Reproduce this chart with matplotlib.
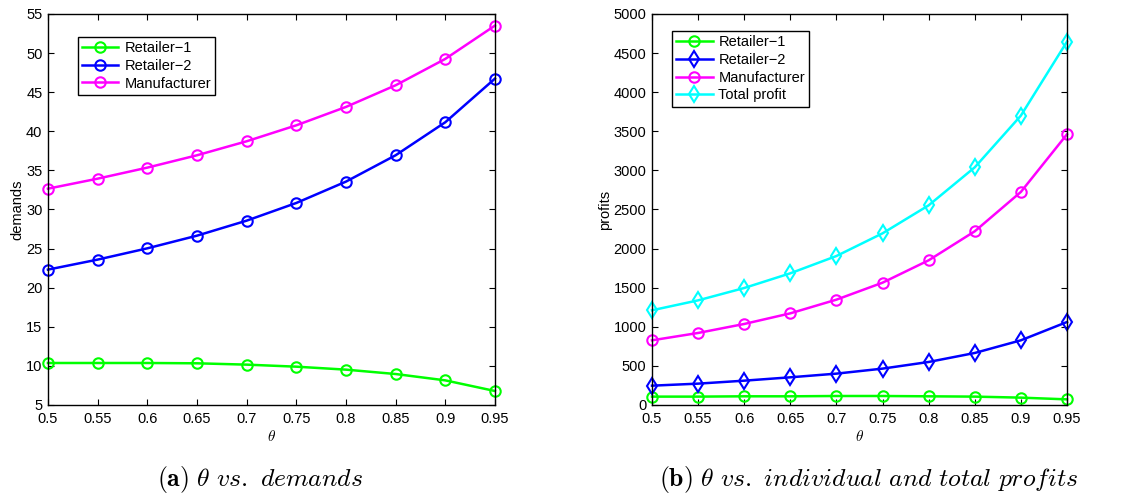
import numpy as np
import matplotlib
matplotlib.use('Agg')
import matplotlib.pyplot as plt

plt.rcParams['font.family'] = ['Liberation Sans', 'DejaVu Sans']
plt.rcParams['mathtext.fontset'] = 'cm'

theta = [0.5, 0.55, 0.6, 0.65, 0.7, 0.75, 0.8, 0.85, 0.9, 0.95]
tick_labels = ['0.5', '0.55', '0.6', '0.65', '0.7', '0.75', '0.8', '0.85', '0.9', '0.95']

# (a) demands
dem_r1 = [10.37, 10.37, 10.37, 10.33, 10.16, 9.90, 9.52, 8.96, 8.15, 6.79]
dem_r2 = [22.31, 23.59, 25.03, 26.65, 28.57, 30.83, 33.56, 36.93, 41.15, 46.73]
dem_m = [32.66, 33.94, 35.35, 36.93, 38.72, 40.76, 43.11, 45.88, 49.25, 53.51]

# (b) profits
pr_r1 = [107, 107, 111, 111, 115, 115, 111, 107, 94, 72]
pr_r2 = [247, 273, 311, 354, 401, 465, 550, 665, 827, 1061]
pr_m = [827, 921, 1036, 1172, 1347, 1564, 1850, 2221, 2724, 3461]
pr_tot = [1211, 1338, 1496, 1684, 1905, 2195, 2553, 3039, 3700, 4646]

GREEN, BLUE, MAG, CYAN = '#00ff00', '#0000ff', '#ff00ff', '#00ffff'


def style_axes(ax):
    ax.tick_params(direction='in', top=True, right=True, labelsize=10.5, length=4)
    ax.tick_params(axis='x', pad=5)
    ax.tick_params(axis='y', pad=4)
    ax.set_xlim(0.5, 0.95)
    ax.set_xticks(theta)
    ax.set_xticklabels(tick_labels)
    ax.set_xlabel(r'$\theta$', fontsize=11, labelpad=2)
    for s in ax.spines.values():
        s.set_linewidth(1.0)


fig = plt.figure(figsize=(11.23, 4.99), dpi=100)
ax1 = fig.add_axes([0.0427, 0.1884, 0.398, 0.7836])
ax2 = fig.add_axes([0.5806, 0.1884, 0.3695, 0.7836])

kw = dict(lw=1.8, mfc='none', mew=1.5, clip_on=False)
ax1.plot(theta, dem_r1, '-o', color=GREEN, ms=7.5, label='Retailer\u22121', **kw)
ax1.plot(theta, dem_r2, '-o', color=BLUE, ms=7.5, label='Retailer\u22122', **kw)
ax1.plot(theta, dem_m, '-o', color=MAG, ms=7.5, label='Manufacturer', **kw)
style_axes(ax1)
ax1.set_ylim(5, 55)
ax1.set_yticks(np.arange(5, 56, 5))
ax1.set_ylabel('demands', fontsize=10.5, labelpad=1)
leg = ax1.legend(loc='upper left', bbox_to_anchor=(0.05, 0.96), fontsize=10.5,
                 fancybox=False, framealpha=1, edgecolor='black',
                 handlelength=2.5, borderpad=0.3, labelspacing=0.25, handletextpad=0.4)
leg.get_frame().set_linewidth(1.0)

ax2.plot(theta, pr_r1, '-o', color=GREEN, ms=7.5, label='Retailer\u22121', **kw)
ax2.plot(theta, pr_r2, '-d', color=BLUE, ms=8, label='Retailer\u22122', **kw)
ax2.plot(theta, pr_m, '-o', color=MAG, ms=7.5, label='Manufacturer', **kw)
ax2.plot(theta, pr_tot, '-d', color=CYAN, ms=8, label='Total profit', **kw)
style_axes(ax2)
ax2.set_ylim(0, 5000)
ax2.set_yticks(np.arange(0, 5001, 500))
ax2.set_ylabel('profits', fontsize=10.5, labelpad=1)
leg = ax2.legend(loc='upper left', bbox_to_anchor=(0.03, 0.975), fontsize=10.5,
                 fancybox=False, framealpha=1, edgecolor='black',
                 handlelength=2.5, borderpad=0.3, labelspacing=0.25, handletextpad=0.4)
leg.get_frame().set_linewidth(1.0)

fig.text(0.2315, 0.04, r'$\mathbf{(a)}\ \theta\ \mathit{vs.\ demands}$',
         ha='center', va='center', fontsize=18.5)
fig.text(0.774, 0.04, r'$\mathbf{(b)}\ \theta\ \mathit{vs.\ individual\ and\ total\ profits}$',
         ha='center', va='center', fontsize=18.5)

fig.savefig('out.png', dpi=100)
